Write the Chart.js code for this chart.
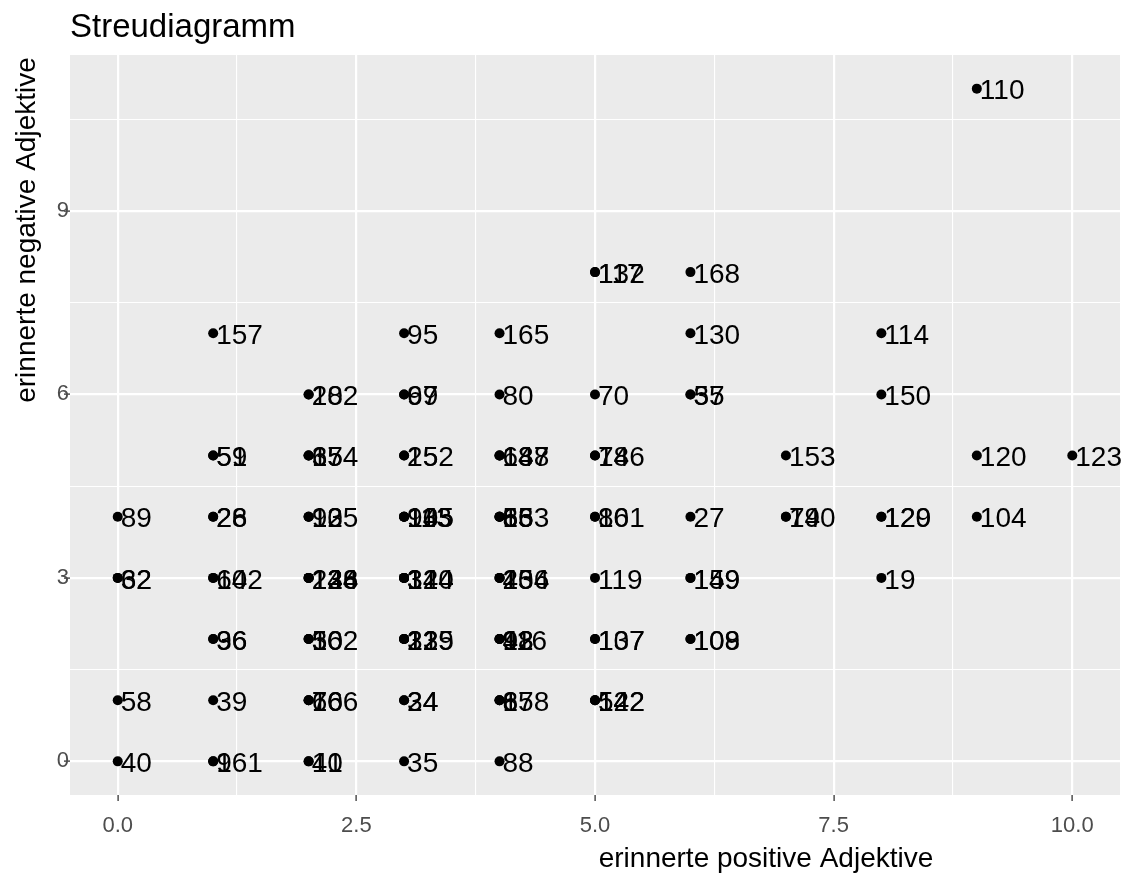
<!DOCTYPE html>
<html lang="de">
<head>
<meta charset="utf-8">
<title>Streudiagramm</title>
<script src="https://cdn.jsdelivr.net/npm/chart.js@4"></script>
<style>
  html, body { margin: 0; padding: 0; background: #ffffff; }
  canvas { display: block; }
</style>
</head>
<body>
<canvas id="scatter" width="1125" height="873"></canvas>
<script>
// Versuchspersonen: erinnerte positive / negative Adjektive, Beschriftung = ID
const ids = [
  '89', '32', '62', '58', '40',
  '157', '51', '59', '26', '28', '64', '102', '36', '96', '39', '9', '161',
  '18', '202', '37', '65', '154', '12', '93', '105', '23', '126', '128', '144', '30', '50', '162', '66', '76', '106', '10', '41',
  '95', '69', '97', '152', '25', '90', '113', '135', '145', '3', '31', '124', '140', '21', '33', '125', '129', '24', '34', '35',
  '165', '80', '68', '138', '147', '55', '63', '163', '85', '45', '136', '204', '43', '92', '116', '98', '8', '67', '158', '88',
  '117', '132', '70', '78', '146', '86', '101', '119', '107', '137', '54', '122', '142',
  '168', '130', '35', '57', '27', '149', '159', '108', '109',
  '153', '79', '140',
  '114', '150', '120', '129', '19',
  '110', '120', '104',
  '123'
];
const positive = [
  0, 0, 0, 0, 0,
  1, 1, 1, 1, 1, 1, 1, 1, 1, 1, 1, 1,
  2, 2, 2, 2, 2, 2, 2, 2, 2, 2, 2, 2, 2, 2, 2, 2, 2, 2, 2, 2,
  3, 3, 3, 3, 3, 3, 3, 3, 3, 3, 3, 3, 3, 3, 3, 3, 3, 3, 3, 3,
  4, 4, 4, 4, 4, 4, 4, 4, 4, 4, 4, 4, 4, 4, 4, 4, 4, 4, 4, 4,
  5, 5, 5, 5, 5, 5, 5, 5, 5, 5, 5, 5, 5,
  6, 6, 6, 6, 6, 6, 6, 6, 6,
  7, 7, 7,
  8, 8, 8, 8, 8,
  9, 9, 9,
  10
];
const negative = [
  4, 3, 3, 1, 0,
  7, 5, 5, 4, 4, 3, 3, 2, 2, 1, 0, 0,
  6, 6, 5, 5, 5, 4, 4, 4, 3, 3, 3, 3, 2, 2, 2, 1, 1, 1, 0, 0,
  7, 6, 6, 5, 5, 4, 4, 4, 4, 3, 3, 3, 3, 2, 2, 2, 2, 1, 1, 0,
  7, 6, 5, 5, 5, 4, 4, 4, 4, 3, 3, 3, 2, 2, 2, 2, 1, 1, 1, 0,
  8, 8, 6, 5, 5, 4, 4, 3, 2, 2, 1, 1, 1,
  8, 7, 6, 6, 4, 3, 3, 2, 2,
  5, 4, 4,
  7, 6, 4, 4, 3,
  11, 5, 4,
  5
];

// Achsen: Hauptlinien mit Beschriftung, Nebenlinien dazwischen
const xMajor = [0, 2.5, 5, 7.5, 10];
const xMinor = [1.25, 3.75, 6.25, 8.75];
const xTickLabels = ['0.0', '2.5', '5.0', '7.5', '10.0'];
const yMajor = [0, 3, 6, 9];
const yMinor = [1.5, 4.5, 7.5, 10.5];
const yTickLabels = ['0', '3', '6', '9'];

const FONT = "'Liberation Sans', Arial, Helvetica, sans-serif";

const points = ids.map((id, i) => ({ x: positive[i], y: negative[i], id }));

function setTicks(major, minor) {
  return (scale) => {
    scale.ticks = major.concat(minor).sort((a, b) => a - b).map(v => ({ value: v }));
  };
}

function isMajor(list, value) {
  return list.some(v => Math.abs(v - value) < 1e-9);
}

function tickLabel(major, labels) {
  return (value) => {
    const idx = major.findIndex(v => Math.abs(v - value) < 1e-9);
    return idx >= 0 ? labels[idx] : '';
  };
}

// grauer Panel-Hintergrund wie bei ggplot
const panelBackground = {
  id: 'panelBackground',
  beforeDraw(chart) {
    const { ctx, chartArea: a } = chart;
    ctx.save();
    ctx.fillStyle = '#EBEBEB';
    ctx.fillRect(a.left, a.top, a.right - a.left, a.bottom - a.top);
    ctx.restore();
  }
};

// ID-Beschriftungen rechts neben den Punkten
const pointLabels = {
  id: 'pointLabels',
  afterDatasetsDraw(chart) {
    const { ctx } = chart;
    const meta = chart.getDatasetMeta(0);
    ctx.save();
    ctx.font = `28px ${FONT}`;
    ctx.fillStyle = '#000000';
    ctx.textAlign = 'left';
    ctx.textBaseline = 'middle';
    meta.data.forEach((el, i) => {
      ctx.fillText(points[i].id, el.x + 3, el.y + 3);
    });
    ctx.restore();
  }
};

// Titel und Achsentitel
const titles = {
  id: 'titles',
  afterDraw(chart) {
    const { ctx, chartArea: a } = chart;
    ctx.save();
    ctx.fillStyle = '#000000';
    ctx.textBaseline = 'alphabetic';

    ctx.font = `33px ${FONT}`;
    ctx.textAlign = 'left';
    ctx.fillText('Streudiagramm', a.left, 37);

    ctx.font = `28px ${FONT}`;
    ctx.textAlign = 'center';
    ctx.fillText('erinnerte positive Adjektive', 766, 867);

    ctx.translate(35, 230);
    ctx.rotate(-Math.PI / 2);
    ctx.fillText('erinnerte negative Adjektive', 0, 0);
    ctx.restore();
  }
};

function init() {
  const ctx = document.getElementById('scatter').getContext('2d');

  new Chart(ctx, {
    type: 'scatter',
    data: {
      datasets: [{
        data: points,
        backgroundColor: '#000000',
        borderColor: '#000000',
        borderWidth: 0,
        pointRadius: 5,
        pointHoverRadius: 5
      }]
    },
    options: {
      responsive: false,
      animation: false,
      layout: { padding: { top: 55, right: 3, left: 0, bottom: 0 } },
      plugins: {
        legend: { display: false },
        title: { display: false },
        tooltip: { enabled: false }
      },
      scales: {
        x: {
          type: 'linear',
          min: -0.5,
          max: 10.5,
          afterBuildTicks: setTicks(xMajor, xMinor),
          afterFit: (s) => { s.height = 78; },
          border: { display: false },
          grid: {
            color: '#FFFFFF',
            lineWidth: (c) => isMajor(xMajor, c.tick.value) ? 2.2 : 1.1,
            drawTicks: true,
            tickLength: 6,
            tickWidth: 1.3,
            tickColor: (c) => isMajor(xMajor, c.tick.value) ? '#333333' : 'rgba(0,0,0,0)'
          },
          ticks: {
            autoSkip: false,
            maxRotation: 0,
            padding: 12,
            color: '#4D4D4D',
            font: { family: FONT, size: 22 },
            callback: tickLabel(xMajor, xTickLabels)
          }
        },
        y: {
          type: 'linear',
          min: -0.55,
          max: 11.55,
          afterBuildTicks: setTicks(yMajor, yMinor),
          afterFit: (s) => { s.width = 70; },
          border: { display: false },
          grid: {
            color: '#FFFFFF',
            lineWidth: (c) => isMajor(yMajor, c.tick.value) ? 2.2 : 1.1,
            drawTicks: true,
            tickLength: 6,
            tickWidth: 1.3,
            tickColor: (c) => isMajor(yMajor, c.tick.value) ? '#333333' : 'rgba(0,0,0,0)'
          },
          ticks: {
            autoSkip: false,
            padding: -5,
            color: '#4D4D4D',
            font: { family: FONT, size: 22 },
            callback: tickLabel(yMajor, yTickLabels)
          }
        }
      }
    },
    plugins: [panelBackground, pointLabels, titles]
  });
}

init();
</script>
</body>
</html>
